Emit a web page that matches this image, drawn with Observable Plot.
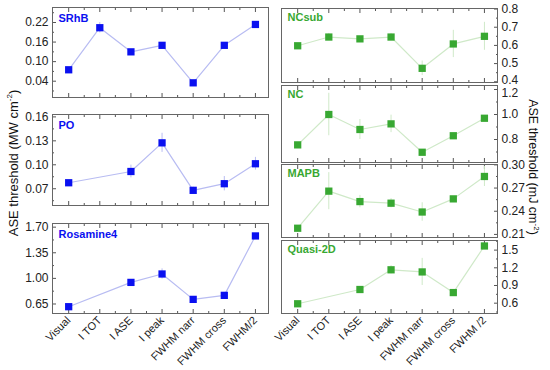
<!DOCTYPE html>
<html><head><meta charset="utf-8">
<script src="https://cdn.jsdelivr.net/npm/d3@7"></script>
<script src="https://cdn.jsdelivr.net/npm/@observablehq/plot@0.6"></script>
<style>
body{margin:0;background:#fff;}
#chart{position:relative;width:550px;height:370px;font-family:"Liberation Sans",Arial,sans-serif;overflow:hidden;}
#chart svg{position:absolute;overflow:visible;}
.ytitle{position:absolute;font-size:13px;white-space:nowrap;color:#111;line-height:1;}
.ytitle sup{font-size:8px;}
</style></head><body><div id="chart"></div>
<script>
const categoriesLeft = ["Visual","I TOT","I ASE","I peak","FWHM narr","FWHM cross","FWHM/2"];
const categoriesRight = ["Visual","I TOT","I ASE","I peak","FWHM narr","FWHM cross","FWHM /2"];

const srhbValues = [0.075, 0.204, 0.130, 0.150, 0.035, 0.150, 0.214];
const srhbErrors = [0.003, 0.016, 0.004, 0.004, 0.003, 0.004, 0.004];
const poValues = [0.0775, null, 0.0916, 0.1275, 0.068, 0.0763, 0.1013];
const poErrors = [0.002, null, 0.008, 0.012, 0.004, 0.009, 0.008];
const rosValues = [0.613, null, 0.945, 1.06, 0.713, 0.768, 1.58];
const rosErrors = [0.01, null, 0.02, 0.07, 0.04, 0.04, 0.02];
const ncsubValues = [0.598, 0.646, 0.636, 0.646, 0.474, 0.608, 0.650];
const ncsubErrors = [0.01, 0.02, 0.01, 0.02, 0.04, 0.075, 0.077];
const ncValues = [0.757, 1.00, 0.88, 0.925, 0.698, 0.83, 0.97];
const ncErrors = [0.01, 0.17, 0.08, 0.07, 0.01, 0.01, 0.01];
const mapbValues = [0.218, 0.266, 0.2525, 0.2504, 0.239, 0.256, 0.285];
const mapbErrors = [0.001, 0.024, 0.008, 0.006, 0.012, 0.002, 0.013];
const quasiValues = [0.59, null, 0.832, 1.166, 1.13, 0.78, 1.57];
const quasiErrors = [0.01, null, 0.02, 0.07, 0.23, 0.02, 0.03];

const srhbTicks = [0.04, 0.10, 0.16, 0.22];
const poTicks = [0.07, 0.10, 0.13, 0.16];
const rosTicks = [0.65, 1.00, 1.35, 1.70];
const ncsubTicks = [0.4, 0.5, 0.6, 0.7, 0.8];
const ncTicks = [0.8, 1.0, 1.2];
const mapbTicks = [0.21, 0.24, 0.27, 0.30];
const quasiTicks = [0.6, 0.9, 1.2, 1.5];

const blue = "#0a10f0", blueLight = "#b8bcf2";
const green = "#38a832", greenLight = "#cfe9c8";

const panels = [
  {name:"SRhB", cats:categoriesLeft, values:srhbValues, errors:srhbErrors, ticks:srhbTicks, domain:[-0.01, 0.266], fmt:".2f", side:"left", top:7, h:90, color:blue, light:blueLight},
  {name:"PO", cats:categoriesLeft, values:poValues, errors:poErrors, ticks:poTicks, domain:[0.049, 0.163], fmt:".2f", side:"left", top:114, h:91, color:blue, light:blueLight},
  {name:"Rosamine4", cats:categoriesLeft, values:rosValues, errors:rosErrors, ticks:rosTicks, domain:[0.52, 1.75], fmt:".2f", side:"left", top:223, h:90, color:blue, light:blueLight, bottom:true},
  {name:"NCsub", cats:categoriesRight, values:ncsubValues, errors:ncsubErrors, ticks:ncsubTicks, domain:[0.396, 0.803], fmt:".1f", side:"right", top:8, h:74, color:green, light:greenLight, shiftLow:-2},
  {name:"NC", cats:categoriesRight, values:ncValues, errors:ncErrors, ticks:ncTicks, domain:[0.616, 1.232], fmt:".1f", side:"right", top:85, h:77, color:green, light:greenLight, shiftHigh:4},
  {name:"MAPB", cats:categoriesRight, values:mapbValues, errors:mapbErrors, ticks:mapbTicks, domain:[0.206, 0.3005], fmt:".2f", side:"right", top:164, h:73, color:green, light:greenLight},
  {name:"Quasi-2D", cats:categoriesRight, values:quasiValues, errors:quasiErrors, ticks:quasiTicks, domain:[0.425, 1.663], fmt:".1f", side:"right", top:240, h:73, color:green, light:greenLight, bottom:true}
];

const chart = document.getElementById("chart");
const frameW = 216;

for (const p of panels) {
  const data = p.values.map((v, i) => ({i, v, e: p.errors[i]})).filter(d => d.v != null);
  const step = p.ticks[1] - p.ticks[0];
  const minor = [];
  for (let t = p.ticks[0] - step / 2; t <= p.domain[1]; t += step) if (t >= p.domain[0]) minor.push(t);
  const majorX = d3.range(p.cats.length);
  const minorX = d3.range(p.cats.length - 1).map(i => i + 0.5);
  const mt = 0, mb = p.bottom ? 62 : 0;
  const ml = p.side === "left" ? 52 : 51;
  const width = p.side === "left" ? 280 : 320;
  const left = p.side === "left" ? 0 : 230;
  const fmt = d3.format(p.fmt);
  const none = () => "";
  const lo = p.ticks[0], hi = p.ticks[p.ticks.length - 1];
  const midTicks = p.ticks.filter(t => !((t === lo && p.shiftLow) || (t === hi && p.shiftHigh)));
  const yText = {anchor: p.side, tickSize: 0, tickPadding: 4, tickFormat: fmt, label: null, fontSize: 12, fill: "#222"};
  const svg = Plot.plot({
    width, height: p.h + mt + mb,
    marginLeft: ml, marginRight: width - ml - frameW, marginTop: mt, marginBottom: mb,
    x: {type: "linear", domain: [-0.52, 6.42], axis: null},
    y: {type: "linear", domain: p.domain, axis: null},
    style: {background: "transparent", overflow: "visible", fontFamily: "'Liberation Sans', Arial, sans-serif", fontSize: "11px", color: "#222"},
    marks: [
      Plot.axisX({anchor: "bottom", ticks: majorX, tickSize: -4, tickFormat: none, label: null, stroke: "#555"}),
      Plot.axisX({anchor: "bottom", ticks: minorX, tickSize: -2, tickFormat: none, label: null, stroke: "#555"}),
      Plot.axisX({anchor: "top", ticks: majorX, tickSize: -4, tickFormat: none, label: null, stroke: "#555"}),
      Plot.axisX({anchor: "top", ticks: minorX, tickSize: -2, tickFormat: none, label: null, stroke: "#555"}),
      Plot.axisY({anchor: p.side, ticks: p.ticks, tickSize: -4, tickFormat: none, label: null, stroke: "#555"}),
      Plot.axisY({anchor: p.side, ticks: minor, tickSize: -2, tickFormat: none, label: null, stroke: "#555"}),
      Plot.axisY({...yText, ticks: midTicks}),
      p.shiftLow ? Plot.axisY({...yText, ticks: [lo], dy: p.shiftLow}) : null,
      p.shiftHigh ? Plot.axisY({...yText, ticks: [hi], dy: p.shiftHigh}) : null,
      p.bottom ? Plot.axisX({anchor: "bottom", ticks: majorX, tickSize: 0, tickPadding: 5, tickRotate: -45, tickFormat: i => p.cats[i], label: null, fontSize: 11, fill: "#222"}) : null,
      Plot.frame({stroke: "#666", strokeWidth: 1}),
      Plot.ruleX(data, {x: "i", y1: d => d.v - d.e, y2: d => d.v + d.e, stroke: p.light, strokeWidth: 1}),
      Plot.line(data, {x: "i", y: "v", stroke: p.light, strokeWidth: 1.2}),
      Plot.dot(data, {x: "i", y: "v", symbol: "square", r: 4.1, fill: p.color, stroke: "none"}),
      Plot.text([p.name], {frameAnchor: "top-left", dx: 6, dy: p.side === "left" ? 7 : 5, text: d => d, fill: p.color, fontWeight: "bold", fontSize: 11, textAnchor: "start", lineAnchor: "top"})
    ]
  });
  svg.style.left = left + "px";
  svg.style.top = (p.top - mt) + "px";
  chart.appendChild(svg);
}

const t1 = document.createElement("div");
t1.className = "ytitle";
t1.innerHTML = "ASE threshold (MW cm<sup>-2</sup>)";
t1.style.left = "13px"; t1.style.top = "163px";
t1.style.transform = "translate(-50%,-50%) rotate(-90deg)";
chart.appendChild(t1);

const t2 = document.createElement("div");
t2.className = "ytitle";
t2.innerHTML = "ASE threshold (mJ cm<sup>-2</sup>)";
t2.style.fontSize = "12.5px";
t2.style.left = "533px"; t2.style.top = "167px";
t2.style.transform = "translate(-50%,-50%) rotate(90deg)";
chart.appendChild(t2);
</script></body></html>
